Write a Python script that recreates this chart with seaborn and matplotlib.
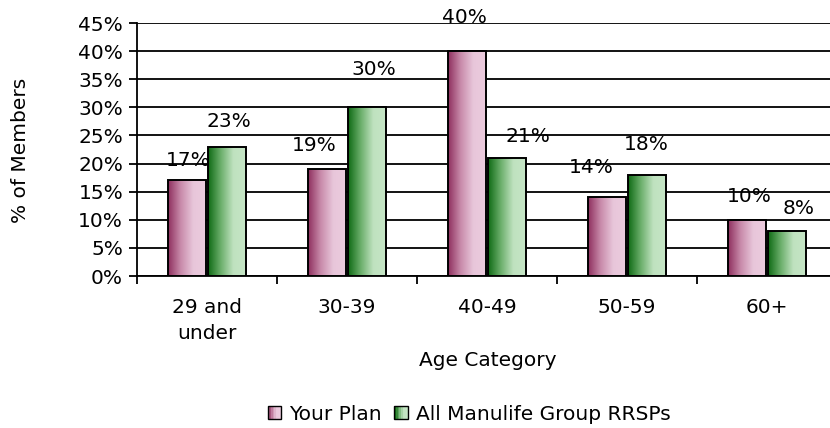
import numpy as np
import pandas as pd
import matplotlib
matplotlib.use("Agg")
import matplotlib.pyplot as plt
import seaborn as sns
from matplotlib.colors import LinearSegmentedColormap
from matplotlib.patches import Patch, Rectangle
from matplotlib.legend_handler import HandlerBase
from matplotlib.ticker import MultipleLocator, FixedLocator, PercentFormatter

categories = ["29 and\nunder", "30-39", "40-49", "50-59", "60+"]
series_names = ["Your Plan", "All Manulife Group RRSPs"]
your_plan = [17, 19, 40, 14, 10]
all_manulife = [23, 30, 21, 18, 8]

# label offsets (pixels) relative to bar top-centre
label_offsets = {
    "Your Plan": [(1, 20), (-13, 24), (-3, 34), (-16, 30), (2, 23)],
    "All Manulife Group RRSPs": [(2, 25), (7, 38), (21, 21), (-1, 30), (12, 23)],
}

df = pd.DataFrame({
    "Age": categories * 2,
    "Series": [series_names[0]] * 5 + [series_names[1]] * 5,
    "Value": your_plan + all_manulife,
})

sns.set_theme(style="white")
plt.rcParams["font.family"] = ["DejaVu Sans"]
FS = 14.5

fig = plt.figure(figsize=(8.30, 4.28), dpi=100)
ax = fig.add_axes([137 / 830, 152 / 428, 700 / 830, 253 / 428])

pink_cmap = LinearSegmentedColormap.from_list("p", ["#8e2f5e", "#c88aaa", "#e8c6da", "#eccbde"])
green_cmap = LinearSegmentedColormap.from_list("g", ["#0f6a14", "#6aae6a", "#bfe2bf", "#c6e6c6"])
mid_colors = ["#c98fb0", "#6fb06f"]

sns.barplot(data=df, x="Age", y="Value", hue="Series", order=categories,
            hue_order=series_names, palette=mid_colors, width=0.571, gap=0.05,
            edgecolor="black", linewidth=1.4, legend=False, ax=ax, zorder=3)

ax.set_xlim(-0.5, 4.5)
ax.set_ylim(0, 45)

grad = np.linspace(0, 1, 256).reshape(1, -1)
for cont, cmap, name in zip(ax.containers, [pink_cmap, green_cmap], series_names):
    for i, bar in enumerate(cont):
        x0, y0 = bar.get_x(), bar.get_y()
        w, h = bar.get_width(), bar.get_height()
        im = ax.imshow(grad, cmap=cmap, extent=[x0, x0 + w, y0, y0 + h],
                       aspect="auto", zorder=3.5, origin="lower")
        im.set_clip_path(bar)
        bar.set_facecolor("none")
        bar.set_zorder(4)
        dx, dy = label_offsets[name][i]
        ax.annotate(f"{int(h)}%", (x0 + w / 2, y0 + h), xytext=(dx, dy),
                    textcoords="offset pixels", ha="center", va="center",
                    fontsize=FS, color="black", zorder=5)
ax.set_xlim(-0.5, 4.5)
ax.set_ylim(0, 45)

ax.yaxis.set_major_locator(MultipleLocator(5))
ax.yaxis.set_major_formatter(PercentFormatter(decimals=0))
ax.grid(axis="y", color="black", linewidth=1.3, zorder=0)
ax.set_axisbelow(True)

ax.xaxis.set_minor_locator(FixedLocator([-0.5, 0.5, 1.5, 2.5, 3.5]))
ax.tick_params(axis="x", which="major", length=0, pad=15.5, labelsize=FS, labelcolor="black")
ax.tick_params(axis="x", which="minor", length=6, width=1.3, color="black", direction="out", bottom=True)
ax.tick_params(axis="y", length=6, width=1.3, color="black", direction="out", left=True,
               labelsize=FS, labelcolor="black", pad=4)
for lbl in ax.get_xticklabels():
    lbl.set_linespacing(1.5)

for s in ["top", "right"]:
    ax.spines[s].set_visible(False)
ax.spines["left"].set_color("black")
ax.spines["left"].set_linewidth(1.3)
ax.spines["bottom"].set_color("black")
ax.spines["bottom"].set_linewidth(1.3)

ax.set_ylabel("")
ax.set_xlabel("")
fig.text(20 / 830, 1 - 150 / 428, "% of Members", rotation=90, ha="center", va="center",
         fontsize=FS, color="black")
fig.text(488 / 830, 1 - 360 / 428, "Age Category", ha="center", va="center",
         fontsize=FS, color="black")


class GradientHandler(HandlerBase):
    def __init__(self, cmap):
        super().__init__()
        self.cmap = cmap

    def create_artists(self, legend, orig_handle, xdescent, ydescent, width, height, fontsize, trans):
        side = min(width, height)
        x0 = -xdescent + (width - side) / 2
        y0 = -ydescent + (height - side) / 2
        n = 8
        arts = []
        for k in range(n):
            arts.append(Rectangle((x0 + side * k / n, y0), side / n + 0.3, side,
                                  facecolor=self.cmap(k / (n - 1)), edgecolor="none", transform=trans))
        arts.append(Rectangle((x0, y0), side, side, facecolor="none", edgecolor="black",
                              linewidth=1.0, transform=trans))
        return arts


handles = [Patch(facecolor=c, edgecolor="black", linewidth=1.0) for c in mid_colors]
fig.legend(handles, series_names, loc="center", bbox_to_anchor=(469 / 830, 1 - 414 / 428),
           ncol=2, frameon=False, fontsize=FS, handlelength=0.65, handleheight=0.65,
           handletextpad=0.4, columnspacing=0.65, labelcolor="black",
           handler_map={handles[0]: GradientHandler(pink_cmap), handles[1]: GradientHandler(green_cmap)})

fig.savefig("out.png", dpi=100)
